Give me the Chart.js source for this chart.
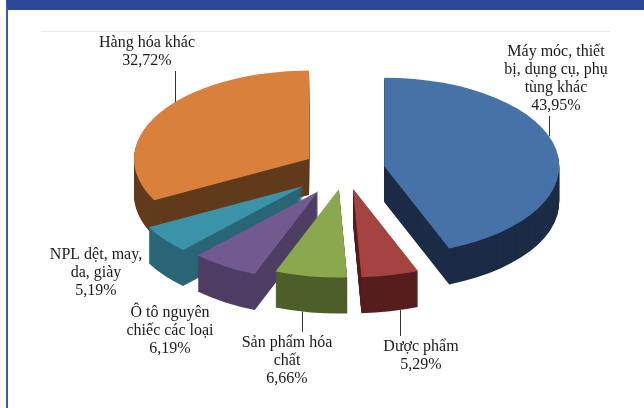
<!DOCTYPE html>
<html>
<head>
<meta charset="utf-8">
<script src="https://cdn.jsdelivr.net/npm/chart.js@4.4.0/dist/chart.umd.min.js"></script>
<style>
  html, body { margin: 0; padding: 0; background: #fff; }
  #wrap { position: relative; width: 644px; height: 408px; overflow: hidden; }
  #frame { position: absolute; left: 6px; top: 0; width: 644px; height: 408px; box-sizing: border-box;
           border-top: 10px solid #2d4898; border-left: 2px solid #3b58ab; }
  #rule { position: absolute; left: 41px; top: 31px; width: 569px; height: 1px; background: #e8e8e8; }
  canvas { position: absolute; left: 0; top: 0; }
</style>
</head>
<body>
<div id="wrap">
  <div id="frame"></div>
  <div id="rule"></div>
  <canvas id="pie" width="644" height="408"></canvas>
</div>
<script>
// import structure by commodity group, % share
const categories = [
  ['Máy móc, thiết', 'bị, dụng cụ, phụ', 'tùng khác'],
  ['Dược phẩm'],
  ['Sản phẩm hóa', 'chất'],
  ['Ô tô nguyên', 'chiếc các loại'],
  ['NPL dệt, may,', 'da, giày'],
  ['Hàng hóa khác']
];
const shares = [43.95, 5.29, 6.66, 6.19, 5.19, 32.72];

const topColors  = ['#4672a8', '#a4433f', '#8aa94e', '#72598f', '#3b93aa', '#d8803c'];
const sideColors = ['#1c2c46', '#561e1d', '#4e5f2a', '#4e3d64', '#2a6677', '#613b1c'];

// how far each slice is pulled out (flat plane, px)
const explode = [40, 38, 38, 50, 52, 42];
const tilt = 0.506, depth = 36, centerY = 170;

// label blocks: x = text centre, y = first line, lineX = leader line
const labelSpots = [
  {x: 556, y: 52, lineX: 549},
  {x: 421, y: 347, lineX: 400},
  {x: 287, y: 343, lineX: 302},
  {x: 170, y: 313},
  {x: 96, y: 255},
  {x: 147, y: 43, lineX: 175}
];
const lineH = 18;

const midAngle = el => (el.startAngle + el.endAngle) / 2;

const pie3d = {
  id: 'pie3d',
  beforeDatasetDraw(chart, args) {
    const ctx = chart.ctx;
    const arcs = args.meta.data;
    const order = arcs.map((a, i) => i)
      .sort((i, j) => Math.sin(midAngle(arcs[i])) - Math.sin(midAngle(arcs[j])));
    order.forEach(i => {
      const el = arcs[i];
      const m = midAngle(el);
      const opts = el.options;
      ctx.save();
      ctx.translate(0, centerY);
      ctx.scale(1, tilt);
      ctx.translate(Math.cos(m) * explode[i], Math.sin(m) * explode[i] - el.y);
      el.options = Object.assign({}, opts, {backgroundColor: sideColors[i]});
      for (let k = depth; k > 0; k--) {
        ctx.save();
        ctx.translate(0, k / tilt);
        el.draw(ctx);
        ctx.restore();
      }
      el.options = opts;
      el.draw(ctx);
      ctx.restore();
    });
    return false;
  },
  afterDraw(chart) {
    const ctx = chart.ctx;
    const arcs = chart.getDatasetMeta(0).data;
    ctx.save();
    ctx.font = '16px "Liberation Serif", "Times New Roman", serif';
    ctx.textAlign = 'center';
    ctx.textBaseline = 'middle';
    arcs.forEach((el, i) => {
      const spot = labelSpots[i];
      const lines = categories[i].concat(shares[i].toFixed(2).replace('.', ',') + '%');
      ctx.fillStyle = '#1a1a1a';
      lines.forEach((t, n) => ctx.fillText(t, spot.x, spot.y + n * lineH));
      if (spot.lineX === undefined) return;
      const m = midAngle(el);
      const R = el.outerRadius;
      const ax = el.x + Math.cos(m) * explode[i];
      const ay = centerY + Math.sin(m) * explode[i] * tilt;
      const below = spot.y > ay;
      const c = Math.max(-1, Math.min(1, (spot.lineX - ax) / R));
      const span = el.endAngle - el.startAngle;
      const a = Math.acos(c);
      let theta = (below ? [a, -a] : [-a, a]).find(t => {
        const d = ((t - el.startAngle) % (2 * Math.PI) + 2 * Math.PI) % (2 * Math.PI);
        return d <= span;
      });
      if (theta === undefined) theta = m;
      const py = ay + Math.sin(theta) * R * tilt + (Math.sin(theta) > 0 ? depth : 0);
      const ty = below ? spot.y - 11 : spot.y + (lines.length - 1) * lineH + 10;
      ctx.strokeStyle = '#333';
      ctx.lineWidth = 1;
      ctx.beginPath();
      ctx.moveTo(Math.round(spot.lineX) + 0.5, py);
      ctx.lineTo(Math.round(spot.lineX) + 0.5, ty);
      ctx.stroke();
    });
    ctx.restore();
  }
};

new Chart(document.getElementById('pie'), {
  type: 'pie',
  data: {
    labels: categories,
    datasets: [{
      data: shares,
      backgroundColor: topColors,
      borderWidth: 0,
      clip: false
    }]
  },
  options: {
    responsive: false,
    animation: false,
    events: [],
    radius: 175,
    layout: { padding: { left: 46 } },
    plugins: {
      legend: { display: false },
      tooltip: { enabled: false }
    }
  },
  plugins: [pie3d]
});
</script>
</body>
</html>
